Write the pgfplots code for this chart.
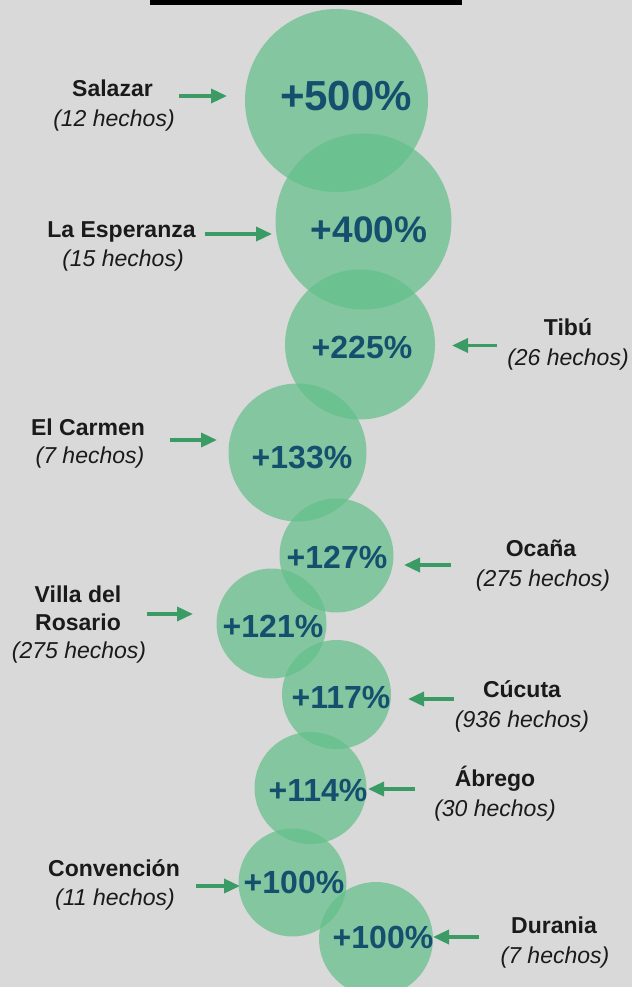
\documentclass[border=0pt]{standalone}
\usepackage{pgfplots}
\pgfplotsset{compat=1.18}
\usepackage{pgfplotstable}
\usepackage{fontspec}
\setmainfont{Liberation Sans}
\usetikzlibrary{arrows.meta}
\definecolor{bg}{RGB}{217,217,217}
\definecolor{bubble}{RGB}{97,191,136}
\definecolor{pctcol}{RGB}{21,79,110}
\definecolor{arrcol}{RGB}{58,156,100}
\definecolor{txt}{RGB}{26,26,26}

\pgfplotstableread{
x     y     r     lx   ly   pct  fs
336.5 100.5 91.5  346  111  500  42
363.5 221.5 88    369  242  400  37
360   344.5 75    362  358  225  32
297.5 452.5 69    302  468  133  32
336.5 555.5 57    337  568  127  32
271.5 623.5 55    273  637  121  32
336.5 694.5 54.5  341  708  117  32
310.5 788   56    318  801  114  32
292.5 882.5 54    294  893  100  32
376   939   57    383  948  100  32
}\bubbles

\tikzset{
  nm/.style={anchor=base,inner sep=0pt,text=txt,font=\fontsize{23}{27}\selectfont\bfseries},
  sub/.style={anchor=base,inner sep=0pt,text=txt,font=\fontsize{23}{27}\selectfont\itshape},
  arr/.style={draw=arrcol,line width=3.5pt,-{Triangle[length=16pt,width=14pt]}}
}

\begin{document}
\begin{tikzpicture}
\begin{axis}[
  x=1pt,y=1pt,y dir=reverse,
  xmin=0,xmax=632,ymin=0,ymax=987,
  axis line style={draw=none},
  ticks=none,
  axis background/.style={fill=bg},
  clip=true,
]
\addplot[scatter, only marks, mark=*,
  scatter/use mapped color={draw opacity=0,fill=bubble,fill opacity=0.7},
  visualization depends on={\thisrow{r}\as\rad},
  scatter/@pre marker code/.append style={/tikz/mark size=\rad}]
  table[x=x,y=y]{\bubbles};

\addplot[draw=none, mark=none,
  point meta=explicit symbolic,
  visualization depends on={\thisrow{fs}\as\fsz},
  nodes near coords={+\pgfplotspointmeta\%},
  every node near coord/.append style={anchor=base,inner sep=0pt,text=pctcol,
     font=\fontsize{\fsz}{\fsz}\selectfont\bfseries}]
  table[x=lx,y=ly,meta=pct]{\bubbles};

\fill[black] (axis cs:150,0) rectangle (axis cs:462,5);

% left labels
\node[nm]  at (axis cs:112.5,97)  {Salazar};
\node[sub] at (axis cs:114,127)   {(12 hechos)};
\draw[arr] (axis cs:179,96) -- (axis cs:227,96);

\node[nm]  at (axis cs:121.5,237) {La Esperanza};
\node[sub] at (axis cs:123,266)   {(15 hechos)};
\draw[arr] (axis cs:205,234) -- (axis cs:272,234);

\node[nm]  at (axis cs:88,435)  {El Carmen};
\node[sub] at (axis cs:90,463)  {(7 hechos)};
\draw[arr] (axis cs:170,440) -- (axis cs:217,440);

\node[nm]  at (axis cs:78,602)  {Villa del};
\node[nm]  at (axis cs:78,630)  {Rosario};
\node[sub] at (axis cs:79,658)  {(275 hechos)};
\draw[arr] (axis cs:147,614) -- (axis cs:193,614);

\node[nm]  at (axis cs:114,876) {Convención};
\node[sub] at (axis cs:115,905) {(11 hechos)};
\draw[arr] (axis cs:196,886) -- (axis cs:240,886);

% right labels
\node[nm]  at (axis cs:568,335) {Tibú};
\node[sub] at (axis cs:568,365) {(26 hechos)};
\draw[arr] (axis cs:497,345.5) -- (axis cs:452,345.5);

\node[nm]  at (axis cs:541,556) {Ocaña};
\node[sub] at (axis cs:543,586) {(275 hechos)};
\draw[arr] (axis cs:451,565) -- (axis cs:404,565);

\node[nm]  at (axis cs:522,697) {Cúcuta};
\node[sub] at (axis cs:522,727) {(936 hechos)};
\draw[arr] (axis cs:454,699) -- (axis cs:408,699);

\node[nm]  at (axis cs:495,786) {Ábrego};
\node[sub] at (axis cs:495,816) {(30 hechos)};
\draw[arr] (axis cs:415,789) -- (axis cs:368,789);

\node[nm]  at (axis cs:554,933) {Durania};
\node[sub] at (axis cs:555,963) {(7 hechos)};
\draw[arr] (axis cs:479,937) -- (axis cs:433,937);
\end{axis}
\pgfresetboundingbox
\path[use as bounding box] (current axis.south west) rectangle (current axis.north east);
\end{tikzpicture}
\end{document}
